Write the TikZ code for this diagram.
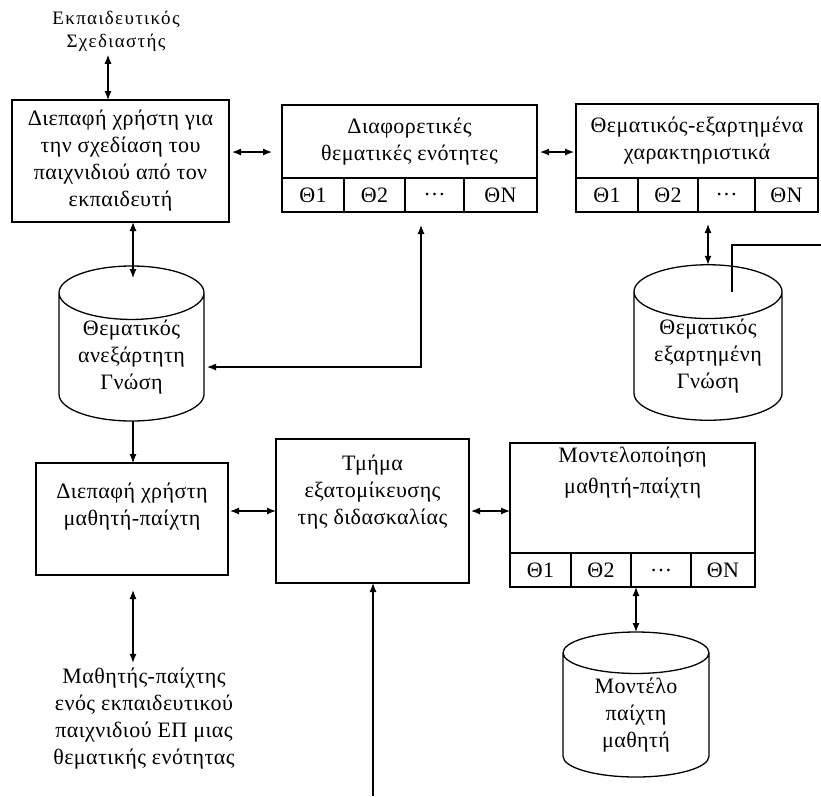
\documentclass[tikz,border=0pt]{standalone}
\usepackage{fontspec}
\setmainfont{Liberation Serif}
\usetikzlibrary{positioning,shapes.geometric,arrows.meta}

\tikzset{
  box/.style={draw,line width=1.3pt,outer sep=0pt,inner sep=0pt,align=center},
  cell/.style={draw,line width=1.3pt,outer sep=0pt,inner sep=0pt,minimum height=34pt},
  dbase/.style={draw,line width=1.3pt,outer sep=0pt,inner sep=0pt,cylinder,shape border rotate=90,aspect=0.5,anchor=shape center,align=center},
  link/.style={line width=1.2pt,>={Latex[length=9pt,width=7pt]}},
}

\begin{document}
\begin{tikzpicture}[x=1pt,y=-1pt,font=\addfontfeature{LetterSpace=2}\fontsize{22}{27}\selectfont]
\useasboundingbox (0,0) rectangle (821,796);

% rows and columns of the arrows
\coordinate (r1) at (0,152);
\coordinate (r2) at (0,511);
\coordinate (c0) at (108,0);
\coordinate (c1) at (133,0);

% designer and authoring interface
\node[align=center,font=\addfontfeature{LetterSpace=7}\fontsize{19}{23}\selectfont] (des) at (116,31) {Εκπαιδευτικός\\Σχεδιαστής};
\node[box,minimum width=217,minimum height=122] (aui) at (120.5,161) {Διεπαφή χρήστη για\\την σχεδίαση του\\παιχνιδιού από τον\\εκπαιδευτή};
\draw[link,<->] (des.south -| c0) -- (aui.north -| c0);

% topics
\node[box,minimum width=255,minimum height=73,anchor=north west] (top) at (282,105) {Διαφορετικές\\θεματικές ενότητες};
\node[cell,minimum width=62,anchor=north west] (top1) at (top.south west) {Θ1};
\node[cell,minimum width=61,anchor=west] (top2) at (top1.east) {Θ2};
\node[cell,minimum width=59,anchor=west] (top3) at (top2.east) {…};
\node[cell,minimum width=73,anchor=west] (top4) at (top3.east) {ΘN};

% topic dependent features
\node[box,minimum width=242,minimum height=74,anchor=north west] (feat) at (576,104) {Θεματικός-εξαρτημένα\\χαρακτηριστικά};
\node[cell,minimum width=62,anchor=north west] (feat1) at (feat.south west) {Θ1};
\node[cell,minimum width=60,anchor=west] (feat2) at (feat1.east) {Θ2};
\node[cell,minimum width=57,anchor=west] (feat3) at (feat2.east) {…};
\node[cell,minimum width=63,anchor=west] (feat4) at (feat3.east) {ΘN};

\draw[link,<->] ([xshift=3]aui.east |- r1) -- ([xshift=-10]top.west |- r1);
\draw[link,<->] ([xshift=3]top.east |- r1) -- ([xshift=-2]feat.west |- r1);

% knowledge bases
\node[dbase,minimum width=145,minimum height=143] (kb1) at (131.5,343.5) {Θεματικός\\ανεξάρτητη\\Γνώση};
\node[dbase,minimum width=148,minimum height=145] (kb2) at (708,342.5) {Θεματικός\\εξαρτημένη\\Γνώση};
\draw[link,<->] (aui.south -| c1) -- ([yshift=-12]kb1.north -| c1);

\coordinate (j1) at (421,367);
\draw[link,<->] ([xshift=3]kb1.east |- j1) -- (j1) -- ([yshift=-13]top3.south -| j1);
\draw[link,<->] (kb2.north) -- ([yshift=-12]feat3.south -| kb2.north);

\coordinate (edgeR) at (821,245);
\coordinate (kb2in) at (732,292);
\draw[link] (edgeR) -| (kb2in);

% learner side
\node[box,minimum width=192,minimum height=112] (lui) at (132,519) {};
\node[inner sep=0pt,align=center,below=20pt of lui.north] (luitxt) {Διεπαφή χρήστη\\μαθητή-παίχτη};
\node[box,minimum width=193,minimum height=144] (pers) at (372.5,511) {};
\node[inner sep=0pt,align=center,below=16pt of pers.north] (perstxt) {Τμήμα\\εξατομίκευσης\\της διδασκαλίας};
\node[box,minimum width=245,minimum height=110,anchor=north west] (lmod) at (510,443) {};
\node[inner sep=0pt,align=center,below=4pt of lmod.north,font=\addfontfeature{LetterSpace=2}\fontsize{22}{31}\selectfont] (lmodtxt) {Μοντελοποίηση\\μαθητή-παίχτη};
\node[cell,minimum width=61,anchor=north west] (lmod1) at (lmod.south west) {Θ1};
\node[cell,minimum width=60,anchor=west] (lmod2) at (lmod1.east) {Θ2};
\node[cell,minimum width=60,anchor=west] (lmod3) at (lmod2.east) {…};
\node[cell,minimum width=64,anchor=west] (lmod4) at (lmod3.east) {ΘN};

\draw[link,->] (kb1.south -| c1) -- (lui.north -| c1);
\draw[link,<->] ([xshift=2]lui.east |- r2) -- (pers.west |- r2);
\draw[link,<->] ([xshift=2]pers.east |- r2) -- (lmod.west |- r2);

\node[dbase,minimum width=146,minimum height=145] (kb3) at (636,704.5) {Μοντέλο\\παίχτη\\μαθητή};
\draw[link,<->] (lmod3.south -| kb3.north) -- (kb3.north);

\node[align=center] (pl) at (144,719) {Μαθητής-παίχτης\\ενός εκπαιδευτικού\\παιχνιδιού ΕΠ μιας\\θεματικής ενότητας};
\draw[link,<->] ([yshift=-15]lui.south -| c1) -- ([yshift=2]pl.north -| c1);

\coordinate (edgeB) at (373,796);
\draw[link,->] (edgeB) -- (pers.south -| edgeB);
\end{tikzpicture}
\end{document}
